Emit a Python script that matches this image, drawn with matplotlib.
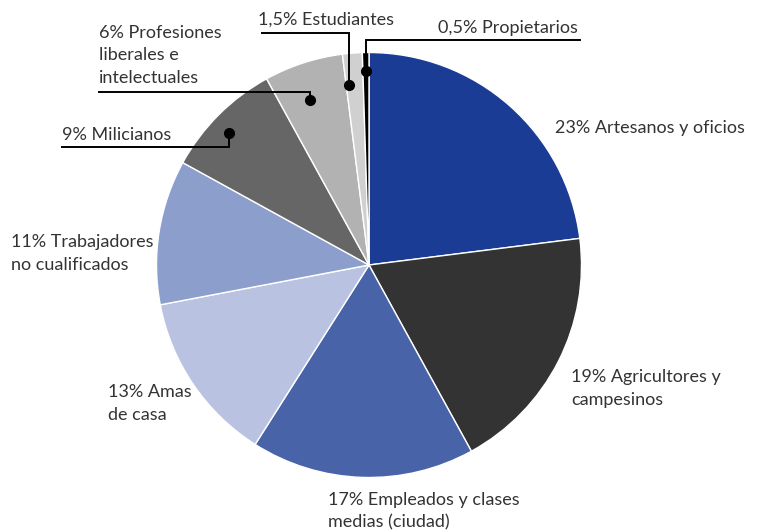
import numpy as np
import matplotlib
matplotlib.use("Agg")
import matplotlib.pyplot as plt

categories = ["Artesanos y oficios", "Agricultores y\ncampesinos", "Empleados y clases\nmedias (ciudad)",
              "Amas\nde casa", "Trabajadores\nno cualificados", "Milicianos",
              "Profesiones\nliberales e\nintelectuales", "Estudiantes", "Propietarios"]
pct_labels = ["23%", "19%", "17%", "13%", "11%", "9%", "6%", "1,5%", "0,5%"]
values = [23, 19, 17, 13, 11, 9, 6, 1.5, 0.5]
colors = ["#1b3c94", "#333333", "#4863a8", "#b9c3e1", "#8c9ecc", "#666666",
          "#b2b2b2", "#d0d0d0", "#000000"]

W, H = 757, 531
fig = plt.figure(figsize=(W / 100, H / 100), dpi=100)
ax = fig.add_axes([0, 0, 1, 1])

def Y(p):
    return H - p

cx, cy, R = 369, Y(265), 212.5
ax.pie(values, colors=colors, startangle=90, counterclock=False,
       radius=R, center=(cx, cy), frame=True,
       wedgeprops=dict(edgecolor="white", linewidth=1.0))
ax.set_xlim(0, W)
ax.set_ylim(0, H)
ax.set_aspect("auto")
ax.axis("off")

font = dict(family=["Lato", "DejaVu Sans"], fontsize=13, color="#333333", fontweight="normal")
LS = 22.5

# plain labels: index -> (x_left, y_center_first_line) in pixels
plain = {0: (555, 128), 1: (571, 377), 2: (328, 500), 3: (108, 392), 4: (11, 242)}
for i, (x, y) in plain.items():
    txt = pct_labels[i] + " " + categories[i]
    for k, ln in enumerate(txt.split("\n")):
        ax.text(x, Y(y + k * LS), ln, ha="left", va="center", **font)

# callouts: index -> (radius frac, angle offset, line y, line x end, text x, text y)
callouts = {
    8: (0.913, 0.0, 40, 580, 438, 28),
    7: (0.852, 2.0, 33, 262, 258, 20),
    6: (0.824, 1.7, 92, 99, 99, 33),
    5: (0.904, 1.7, 147, 62, 62, 135),
}
cum = np.cumsum([0] + values)
total = sum(values)
for i, (rf, off, ly, lx, tx, ty) in callouts.items():
    mid = 90 - 360 * (cum[i] + values[i] / 2) / total + off
    a = np.deg2rad(mid)
    dx = cx + rf * R * np.cos(a)
    dy = cy + rf * R * np.sin(a)
    ax.plot([dx, dx, lx], [dy, Y(ly), Y(ly)], color="black", lw=1.4,
            solid_joinstyle="miter", zorder=5)
    ax.plot([dx], [dy], "o", color="black", ms=7, zorder=6)
    txt = pct_labels[i] + " " + categories[i]
    for k, ln in enumerate(txt.split("\n")):
        ax.text(tx, Y(ty + k * LS), ln, ha="left", va="center", **font)

fig.savefig("out.png", dpi=100)
